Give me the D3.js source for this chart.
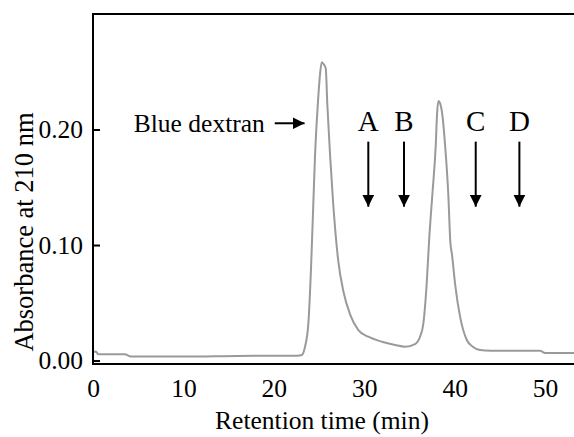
<!DOCTYPE html>
<html>
<head>
<meta charset="utf-8">
<script src="https://cdn.jsdelivr.net/npm/d3@7"></script>
<style>
  html, body { margin: 0; padding: 0; background: #fff; }
  svg { display: block; font-family: "Liberation Serif", "Times New Roman", serif; }
</style>
</head>
<body>
<svg id="chart" width="574" height="437"></svg>
<script>
// Chromatogram: retention time (min) vs absorbance at 210 nm
const retentionTime = [0, 0.3, 0.6, 3.5, 4.2, 10, 16, 22.6, 23.09, 23.45, 23.82, 24.12, 24.37, 24.56, 24.86, 25.1, 25.3, 25.5, 25.74, 25.92, 26.22, 26.58, 26.77, 27.13, 27.69, 28.43, 29.35, 30.45, 31.94, 33.41, 34.51, 35.62, 36.17, 36.54, 36.91, 37.19, 37.53, 37.91, 38.05, 38.2, 38.42, 38.64, 38.94, 39.3, 39.52, 39.71, 40.04, 40.6, 41.34, 42.0, 42.8, 44, 49.45, 50.0, 53.2];
const absorbance    = [0.007, 0.0078, 0.0054, 0.0054, 0.0035, 0.0035, 0.004, 0.0042, 0.0048, 0.012, 0.0322, 0.0812, 0.1364, 0.178, 0.2212, 0.247, 0.2582, 0.2567, 0.253, 0.2212, 0.178, 0.134, 0.115, 0.086, 0.060, 0.040, 0.0264, 0.0206, 0.0163, 0.0135, 0.012, 0.0143, 0.0206, 0.0322, 0.0669, 0.106, 0.1433, 0.1866, 0.213, 0.2247, 0.222, 0.2126, 0.1866, 0.1433, 0.1029, 0.0914, 0.0669, 0.038, 0.0178, 0.012, 0.0092, 0.0085, 0.0085, 0.0065, 0.0065];

const xTicks = [0, 10, 20, 30, 40, 50];
const yTicks = [0.00, 0.10, 0.20];

// Fraction markers shown with downward arrows
const markerLabels = ["A", "B", "C", "D"];
const markerTimes  = [30.45, 34.4, 42.33, 47.16];

// Void-volume marker
const voidLabel = "Blue dextran";

const svg = d3.select("#chart");
const plotL = 93, plotR = 574, plotT = 14, plotB = 364;

const x = d3.scaleLinear().domain([0, 53.2]).range([plotL, plotR]);
const y = d3.scaleLinear().domain([-0.003, 0.3]).range([plotB, plotT]);

// arrowhead definition
svg.append("defs").append("marker")
  .attr("id", "head")
  .attr("viewBox", "0 0 10 10")
  .attr("refX", 10).attr("refY", 5)
  .attr("markerWidth", 12).attr("markerHeight", 12)
  .attr("markerUnits", "userSpaceOnUse")
  .attr("orient", "auto")
  .append("path").attr("d", "M0,0 L10,5 L0,10 Z").attr("fill", "#000");

// chromatogram trace
const line = d3.line()
  .x((d, i) => x(retentionTime[i]))
  .y(d => y(d))
  .curve(d3.curveMonotoneX);

svg.append("path")
  .datum(absorbance)
  .attr("d", line)
  .attr("fill", "none")
  .attr("stroke", "#9a9a9a")
  .attr("stroke-width", 2);

// y axis (inward ticks)
const yAxis = svg.append("g")
  .attr("transform", `translate(${plotL},0)`)
  .call(d3.axisLeft(y).tickValues(yTicks).tickSize(-7).tickPadding(10).tickFormat(d3.format(".2f")));
yAxis.select(".domain").remove();
yAxis.selectAll("line").attr("stroke", "#000").attr("stroke-width", 2);
yAxis.selectAll("text").attr("font-size", 25.5).attr("fill", "#000")
  .style("font-family", "'Liberation Serif', serif");

// x axis (labels only)
const xAxis = svg.append("g")
  .attr("transform", `translate(0,${plotB})`)
  .call(d3.axisBottom(x).tickValues(xTicks).tickSize(0).tickPadding(15).tickFormat(d3.format("d")));
xAxis.select(".domain").remove();
xAxis.selectAll("text").attr("font-size", 25.5).attr("fill", "#000")
  .style("font-family", "'Liberation Serif', serif");

// frame: left, top and bottom edges
svg.append("path")
  .attr("d", `M${plotR},${plotT} H${plotL} V${plotB} H${plotR}`)
  .attr("fill", "none")
  .attr("stroke", "#000")
  .attr("stroke-width", 2);

// axis titles
svg.append("text")
  .attr("x", 322)
  .attr("y", 429)
  .attr("text-anchor", "middle")
  .attr("font-size", 25.5)
  .text("Retention time (min)");

svg.append("text")
  .attr("transform", `translate(33,232) rotate(-90)`)
  .attr("text-anchor", "middle")
  .attr("font-size", 26.5)
  .text("Absorbance at 210 nm");

// fraction arrows and letters
const marks = svg.append("g");
markerTimes.forEach((t, i) => {
  marks.append("line")
    .attr("x1", x(t)).attr("x2", x(t))
    .attr("y1", y(0.1895)).attr("y2", y(0.1332))
    .attr("stroke", "#000").attr("stroke-width", 2)
    .attr("marker-end", "url(#head)");
  marks.append("text")
    .attr("x", x(t)).attr("y", y(0.199))
    .attr("text-anchor", "middle")
    .attr("font-size", 29)
    .text(markerLabels[i]);
});

// Blue dextran label with right arrow
svg.append("text")
  .attr("x", x(19.0)).attr("y", y(0.198))
  .attr("text-anchor", "end")
  .attr("font-size", 25.5)
  .text(voidLabel);
svg.append("line")
  .attr("x1", x(20.1)).attr("x2", x(23.4))
  .attr("y1", y(0.2054)).attr("y2", y(0.2054))
  .attr("stroke", "#000").attr("stroke-width", 2)
  .attr("marker-end", "url(#head)");
</script>
</body>
</html>
